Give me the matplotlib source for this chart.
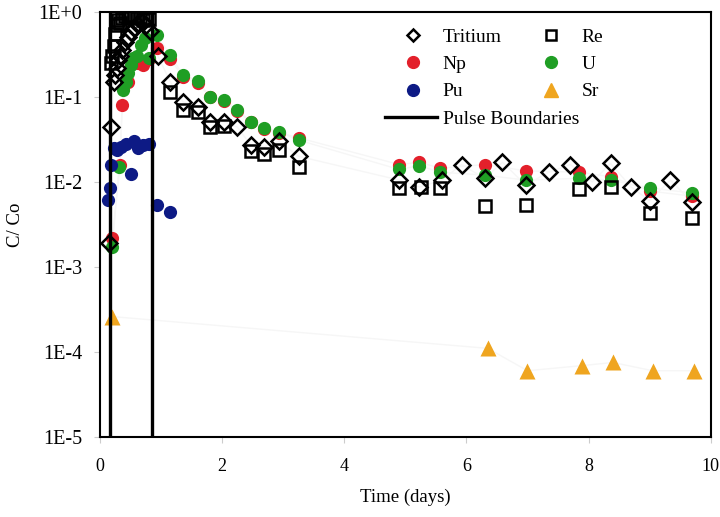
import numpy as np
import matplotlib.pyplot as plt
from matplotlib.ticker import FixedLocator, FixedFormatter, NullLocator

plt.rcParams['font.family'] = ['Liberation Serif', 'DejaVu Serif']

# Tritium (open diamonds)
t_tri = [0.15, 0.18, 0.22, 0.25, 0.27, 0.3, 0.33, 0.36, 0.4, 0.45, 0.5, 0.55, 0.6, 0.68, 0.75, 0.82,
         0.95, 1.15, 1.36, 1.6, 1.8, 2.03, 2.25, 2.47, 2.69, 2.93, 3.25,
         4.9, 5.23, 5.6, 5.92, 6.3, 6.59, 6.97, 7.35, 7.7, 8.06, 8.36, 8.69, 9.0, 9.34, 9.69]
c_tri = [0.0019, 0.044, 0.15, 0.18, 0.22, 0.27, 0.3, 0.36, 0.44, 0.5, 0.58, 0.65, 0.72, 0.76, 0.7, 0.6,
         0.3, 0.15, 0.087, 0.076, 0.051, 0.051, 0.044, 0.027, 0.026, 0.03, 0.02,
         0.0105, 0.0087, 0.0105, 0.016, 0.011, 0.017, 0.0092, 0.013, 0.016, 0.01, 0.0165, 0.0088, 0.006, 0.0105, 0.0058]

# Re (open squares)
t_re = [0.18, 0.2, 0.22, 0.25, 0.28, 0.3, 0.33, 0.36, 0.4, 0.45, 0.5, 0.55, 0.6, 0.65, 0.7, 0.75, 0.8,
        1.15, 1.36, 1.6, 1.8, 2.03, 2.47, 2.69, 2.93, 3.25,
        4.9, 5.26, 5.57, 6.3, 6.97, 7.85, 8.36, 9.0, 9.69]
c_re = [0.25, 0.3, 0.4, 0.55, 0.7, 0.8, 0.75, 0.85, 0.9, 0.88, 0.92, 0.9, 0.85, 0.88, 0.8, 0.85, 0.82,
        0.115, 0.07, 0.066, 0.044, 0.045, 0.023, 0.021, 0.024, 0.015,
        0.0085, 0.0088, 0.0085, 0.0052, 0.0054, 0.0083, 0.0088, 0.0043, 0.0038]

# Np (red circles)
t_np = [0.2, 0.33, 0.36, 0.45, 0.54, 0.62, 0.7, 0.8, 0.93, 1.15, 1.36, 1.6, 1.8, 2.03, 2.25, 2.47, 2.69, 2.93, 3.25,
        4.9, 5.23, 5.57, 6.3, 6.97, 7.85, 8.36, 9.0, 9.69]
c_np = [0.0022, 0.016, 0.08, 0.15, 0.25, 0.25, 0.24, 0.28, 0.38, 0.28, 0.17, 0.145, 0.1, 0.09, 0.068, 0.05, 0.042, 0.038, 0.033,
        0.016, 0.017, 0.0145, 0.016, 0.0135, 0.013, 0.0115, 0.0078, 0.0068]

# U (green circles)
t_u = [0.2, 0.31, 0.38, 0.42, 0.46, 0.5, 0.54, 0.6, 0.67, 0.74, 0.8, 0.93, 1.15, 1.36, 1.6, 1.8, 2.03, 2.25, 2.47, 2.69, 2.93, 3.25,
       4.9, 5.23, 5.57, 6.3, 6.97, 7.85, 8.36, 9.0, 9.69]
c_u = [0.0017, 0.015, 0.12, 0.15, 0.19, 0.24, 0.29, 0.3, 0.41, 0.49, 0.29, 0.54, 0.31, 0.18, 0.155, 0.1, 0.092, 0.07, 0.051, 0.043, 0.039, 0.031,
       0.014, 0.0155, 0.013, 0.012, 0.0105, 0.011, 0.0105, 0.0085, 0.0074]

# Pu (navy circles)
t_pu = [0.13, 0.16, 0.18, 0.22, 0.28, 0.35, 0.42, 0.5, 0.55, 0.62, 0.7, 0.8, 0.93, 1.15]
c_pu = [0.0062, 0.0085, 0.016, 0.025, 0.024, 0.026, 0.028, 0.0125, 0.03, 0.025, 0.027, 0.028, 0.0054, 0.0044]

# Sr (orange triangles)
t_sr = [0.2, 6.35, 7.0, 7.9, 8.4, 9.05, 9.72]
c_sr = [2.6e-4, 1.1e-4, 6.0e-5, 6.9e-5, 7.5e-5, 6.0e-5, 6.0e-5]

pulse = [0.16, 0.85]

fig = plt.figure(figsize=(7.2, 5.17), dpi=100)
ax = fig.add_axes([0.139, 0.155, 0.848, 0.822])

# very faint connecting lines
for t, c in [(t_tri, c_tri), (t_sr, c_sr), (t_np, c_np), (t_u, c_u)]:
    ax.plot(t, c, color='#f6f6f6', lw=1, zorder=1)

ax.plot(t_np, c_np, 'o', color='#e3202b', ms=9.5, mec='none', zorder=3)
ax.plot(t_u, c_u, 'o', color='#1f9e24', ms=9.5, mec='none', zorder=3)
ax.plot(t_re, c_re, 's', mfc='none', mec='black', ms=8, mew=1.8, zorder=4)
ax.plot(t_tri, c_tri, 'D', mfc='none', mec='black', ms=8.5, mew=1.8, zorder=4)
ax.plot(t_pu, c_pu, 'o', color='#0d1a85', ms=9.5, mec='none', zorder=5)
ax.plot(t_sr, c_sr, '^', color='#efa51f', ms=11, mec='none', zorder=5)
for p in pulse:
    ax.axvline(p, color='black', lw=2.4, zorder=6)

h1 = [
    plt.Line2D([], [], ls='none', marker='D', mfc='none', mec='black', ms=6.5, mew=1.8),
    plt.Line2D([], [], ls='none', marker='o', color='#e3202b', ms=8.5),
    plt.Line2D([], [], ls='none', marker='o', color='#0d1a85', ms=8.5),
    plt.Line2D([], [], ls='none', marker='s', mfc='none', mec='black', ms=7, mew=1.8),
    plt.Line2D([], [], ls='none', marker='o', color='#1f9e24', ms=8.5),
    plt.Line2D([], [], ls='none', marker='^', color='#efa51f', ms=9.5),
]
leg1 = ax.legend(h1, ['Tritium', 'Np', 'Pu', 'Re', 'U', 'Sr'], ncol=2, frameon=False,
                 fontsize=14, loc='upper left', bbox_to_anchor=(0.480, 0.962),
                 borderpad=0, borderaxespad=0, handlelength=2, handletextpad=0.55,
                 columnspacing=1.55, labelspacing=0.5)
ax.add_artist(leg1)
h2 = [plt.Line2D([], [], color='black', lw=2.4)]
ax.legend(h2, ['Pulse Boundaries'], frameon=False, fontsize=14, loc='upper left',
          bbox_to_anchor=(0.466, 0.769), borderpad=0, borderaxespad=0,
          handlelength=2.7, handletextpad=0.3)

ax.set_yscale('log')
ax.set_xlim(0, 10)
ax.set_ylim(1e-5, 1)
yt = [1e-5, 1e-4, 1e-3, 1e-2, 1e-1, 1]
ax.yaxis.set_major_locator(FixedLocator(yt))
ax.yaxis.set_major_formatter(FixedFormatter(['1E-5', '1E-4', '1E-3', '1E-2', '1E-1', '1E+0']))
ax.yaxis.set_minor_locator(NullLocator())
ax.set_xticks([0, 2, 4, 6, 8, 10])
ax.tick_params(axis='both', length=4, color='#cccccc')
ax.tick_params(axis='x', pad=11, labelsize=13)
ax.tick_params(axis='y', pad=9, labelsize=14.5)
for s in ax.spines.values():
    s.set_linewidth(1.5)

ax.set_xlabel('Time (days)', fontsize=13.5, labelpad=10)
ax.set_ylabel('C/ Co', fontsize=13.5, labelpad=10)

fig.savefig('out.png', dpi=100)
